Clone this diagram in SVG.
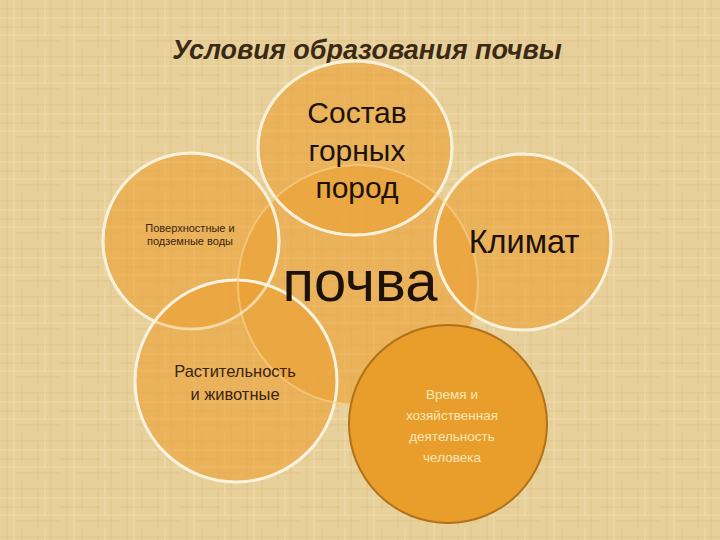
<svg xmlns="http://www.w3.org/2000/svg" width="720" height="540" viewBox="0 0 720 540">
<defs>
<pattern id="tex" width="60" height="48" patternUnits="userSpaceOnUse">
<rect width="60" height="48" fill="#e8d09a"/>
<g stroke="#d9b978" stroke-width="1" opacity="0.55">
<line x1="7" y1="0" x2="7" y2="48"/>
<line x1="22" y1="0" x2="22" y2="30"/>
<line x1="38" y1="10" x2="38" y2="48"/>
<line x1="51" y1="0" x2="51" y2="48"/>
<line x1="0" y1="9" x2="60" y2="9"/>
<line x1="0" y1="27" x2="40" y2="27"/>
<line x1="15" y1="41" x2="60" y2="41"/>
</g>
<g stroke="#f3e2b6" stroke-width="1" opacity="0.7">
<line x1="14" y1="0" x2="14" y2="48"/>
<line x1="45" y1="0" x2="45" y2="36"/>
<line x1="0" y1="18" x2="60" y2="18"/>
<line x1="0" y1="35" x2="60" y2="35"/>
</g>
</pattern>
<style>
.sat{fill:#eb9f34;fill-opacity:0.62;stroke:#fbf3df;stroke-width:3}
.ctr{fill:#eb9f34;fill-opacity:0.62;stroke:#f3c77c;stroke-width:2}
.ring{fill:none;stroke:#fbefd6;stroke-width:2.5;opacity:0.55}
.ringc{fill:none;stroke:#f5cf8a;stroke-width:2;opacity:0.7}
.t{font-family:"Liberation Sans",Arial,sans-serif;text-anchor:middle;fill:#1c120a}
.s{font-family:"Liberation Sans",Arial,sans-serif;text-anchor:middle;fill:#3a2410}
</style>
</defs>
<rect width="720" height="540" fill="url(#tex)"/>
<text x="367" y="59" font-family="'Liberation Sans',Arial,sans-serif" font-size="27" font-weight="bold" font-style="italic" text-anchor="middle" fill="#3a2a15">Условия образования почвы</text>
<g id="connectors"/>
<g id="node-soil">
<circle class="ctr" cx="358" cy="285" r="120"/>
</g>
<g id="node-rocks">
<ellipse class="sat" cx="355" cy="148" rx="97" ry="87"/>
</g>
<g id="node-climate">
<circle class="sat" cx="523" cy="242" r="88"/>
</g>
<g id="node-water">
<circle class="sat" cx="191" cy="241" r="88"/>
</g>
<g id="node-life">
<circle class="sat" cx="236" cy="381" r="101"/>
</g>
<g id="outlines">
<circle class="ringc" cx="358" cy="285" r="120"/>
<ellipse class="ring" cx="355" cy="148" rx="97" ry="87"/>
<circle class="ring" cx="523" cy="242" r="88"/>
<circle class="ring" cx="191" cy="241" r="88"/>
</g>
<g id="node-soil-label">
<text class="t" x="360" y="301" font-size="58">почва</text>
</g>
<g id="node-rocks-label">
<text class="t" font-size="30"><tspan x="357" y="123">Состав</tspan><tspan x="357" y="161">горных</tspan><tspan x="357" y="198">пород</tspan></text>
</g>
<g id="node-climate-label">
<text class="t" x="524" y="253" font-size="32.5">Климат</text>
</g>
<g id="node-water-label">
<text class="s" font-size="11"><tspan x="190" y="232">Поверхностные и</tspan><tspan x="190" y="245">подземные воды</tspan></text>
</g>
<g id="node-life-label">
<text class="s" font-size="16.5"><tspan x="235" y="377">Растительность</tspan><tspan x="235" y="400">и животные</tspan></text>
</g>
<g id="node-time">
<circle cx="448" cy="424" r="99" fill="#e99e2c" stroke="#b07219" stroke-width="2"/>
<text font-family="'Liberation Sans',Arial,sans-serif" font-size="13.5" text-anchor="middle" fill="#f8e7b8"><tspan x="452" y="399">Время и</tspan><tspan x="452" y="420">хозяйственная</tspan><tspan x="452" y="441">деятельность</tspan><tspan x="452" y="462">человека</tspan></text>
</g>
</svg>
